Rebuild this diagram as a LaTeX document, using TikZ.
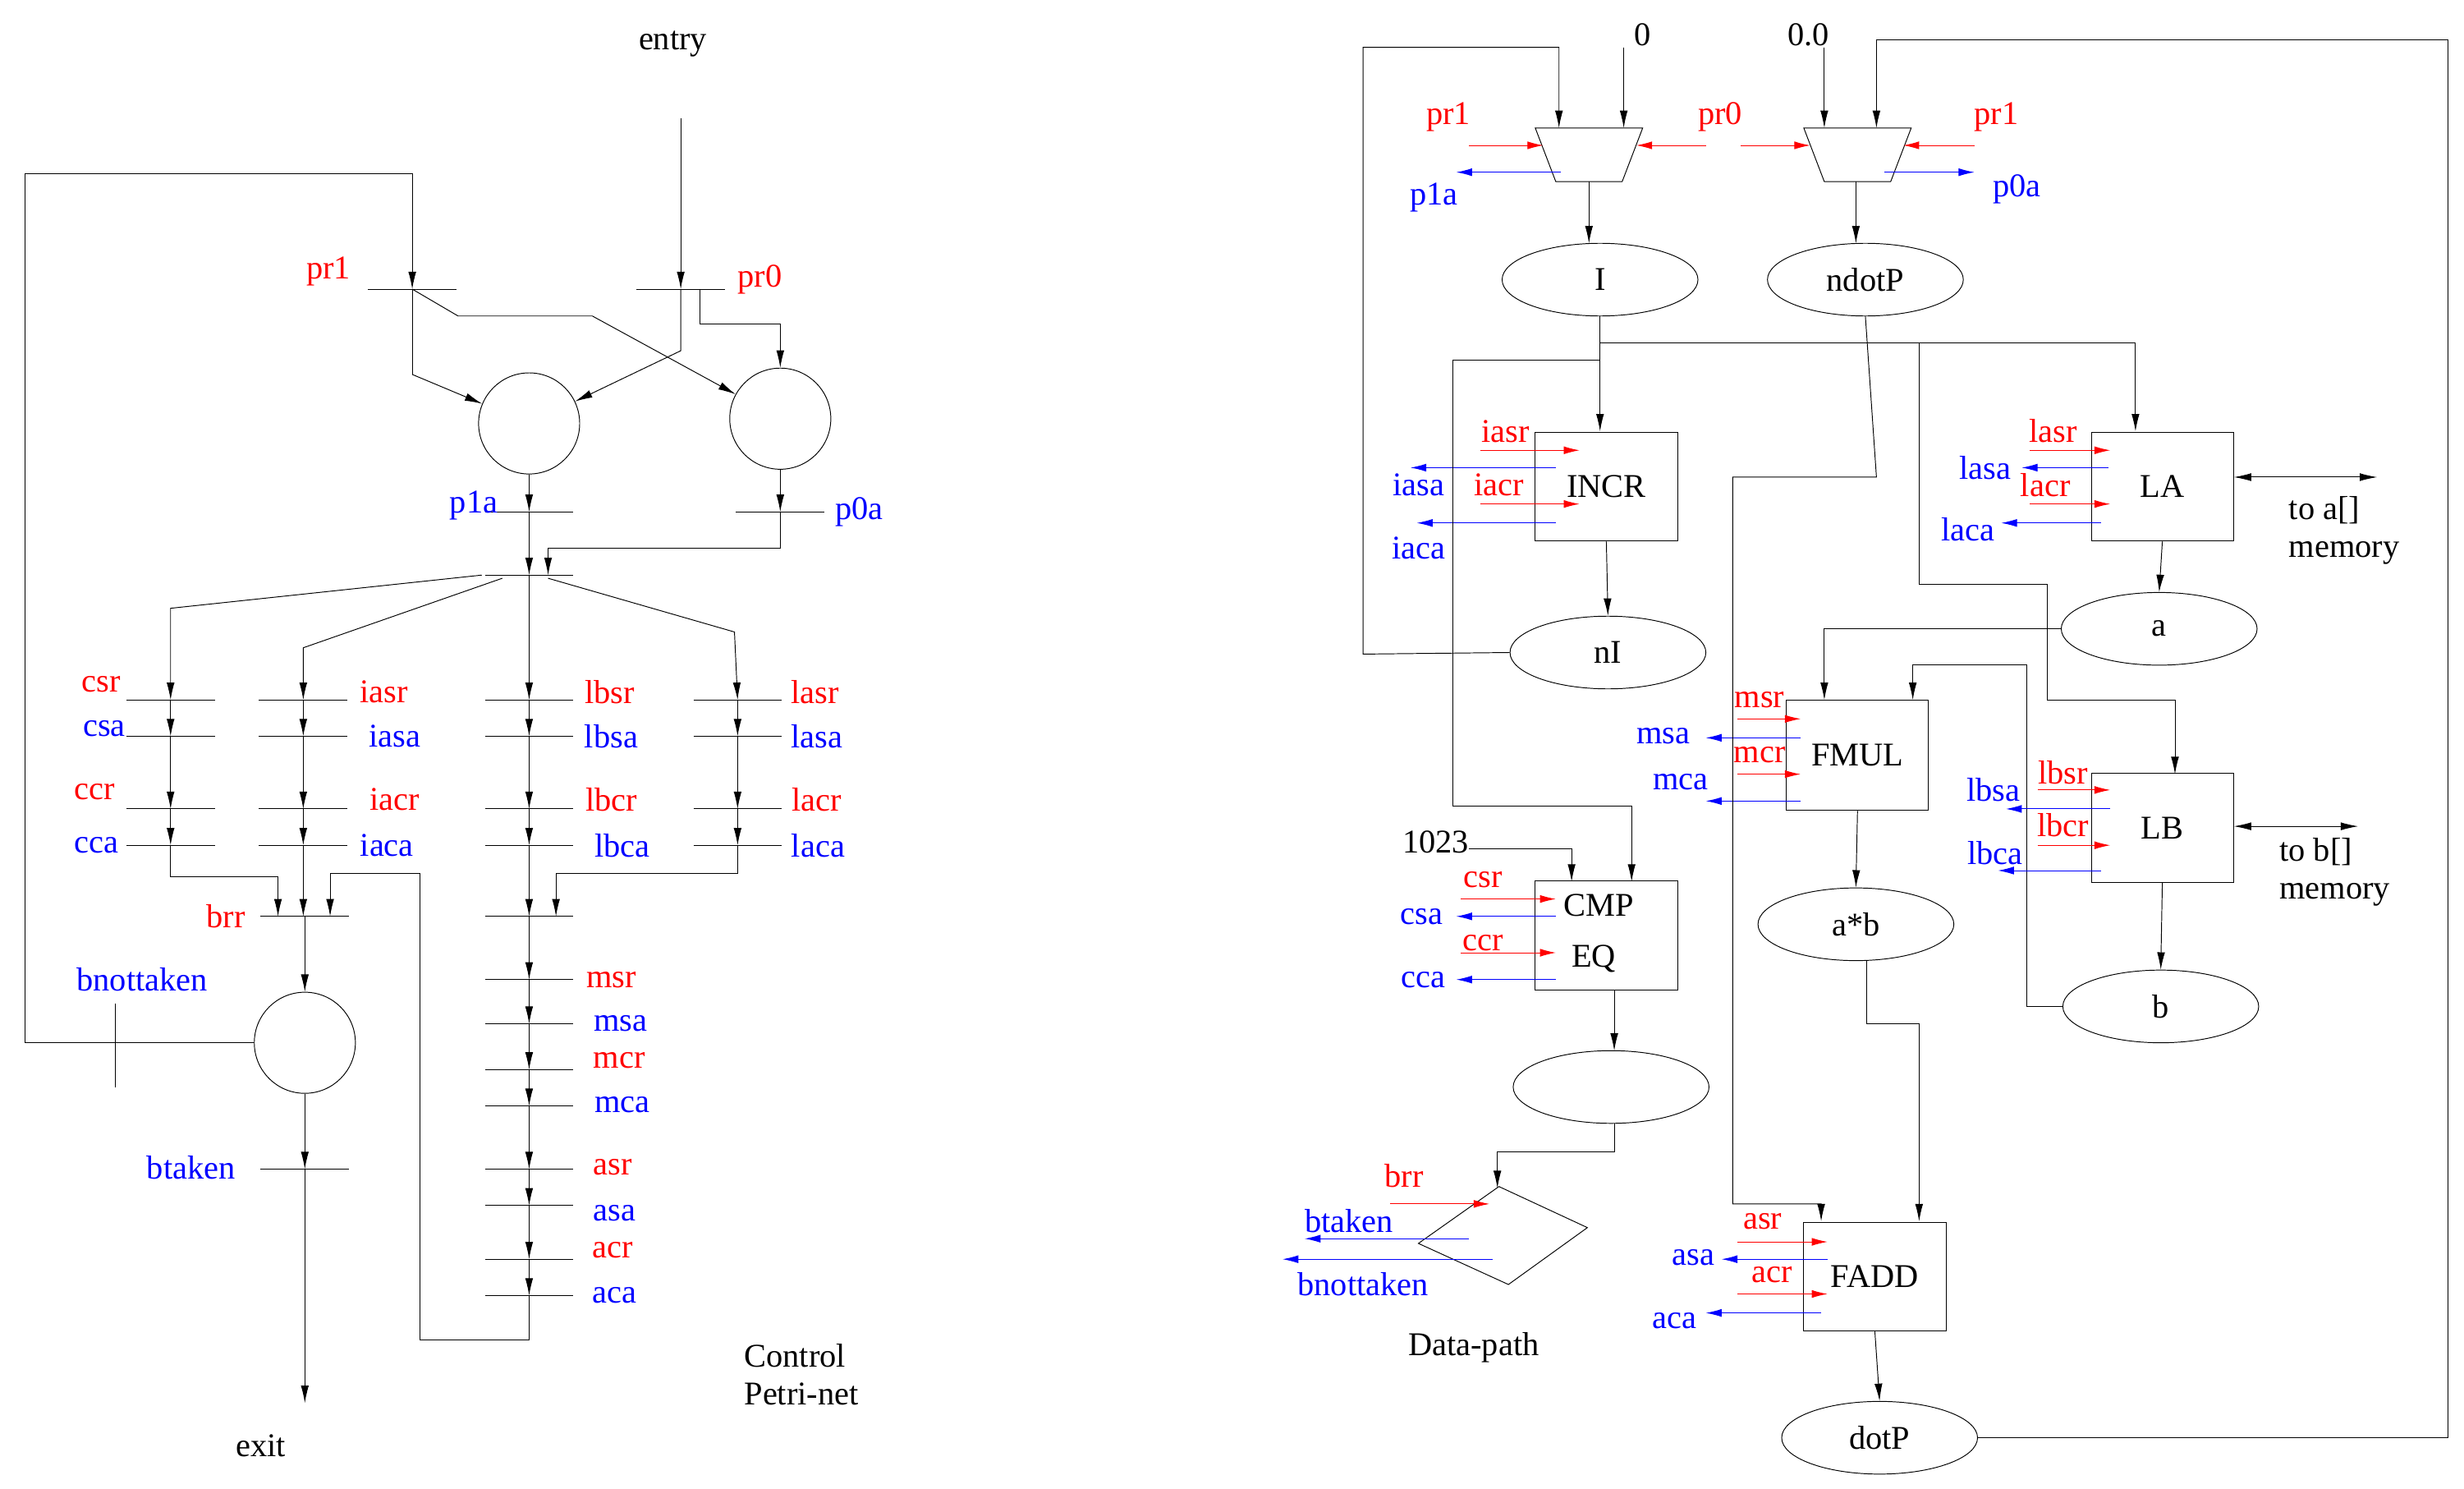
\documentclass[tikz,border=0pt]{standalone}
\usepackage{fontspec}
\setmainfont{Liberation Serif}
\usetikzlibrary{arrows.meta,shapes.geometric}
\begin{document}
\begin{tikzpicture}[x=1pt,y=-1pt,line width=0.5pt,
 ar/.style={-{Latex[length=11pt,width=5pt]}},
 rar/.style={red,-{Latex[length=10pt,width=5pt]}},
 bar/.style={blue,-{Latex[length=10pt,width=5pt]}},
 dar/.style={{Latex[length=11pt,width=5pt]}-{Latex[length=11pt,width=5pt]}},
 txt/.style={font=\fontsize{21}{24}\selectfont,inner sep=0pt},
 rt/.style={txt,text=red}, bt/.style={txt,text=blue},
 pl/.style={circle,draw,minimum size=64pt,inner sep=0pt},
 el/.style={ellipse,draw,minimum width=124pt,minimum height=46pt,inner sep=0pt,txt},
 bx/.style={rectangle,draw,minimum width=90pt,minimum height=69pt,inner sep=0pt,txt}]
\useasboundingbox (0,0) rectangle (1560,942);
\newcommand{\trn}[3]{\coordinate (#3) at (#1,#2); \draw (#1-28,#2) -- (#1+28,#2);}
% ================= Control Petri net =================
\node[txt] (entry) at (426,28) {entry};
\node[txt] (exit) at (165,915) {exit};
\node[txt,align=left,anchor=west] (cpn) at (471,870) {Control\\Petri-net};
\trn{261}{183}{tpr1} \trn{431}{183}{tpr0}
\node[rt] at (208,172) {pr1}; \node[rt] at (481,177) {pr0};
\node[pl] (p1) at (335,268) {}; \node[pl] (p0) at (494,265) {};
\coordinate (ein) at (431,75);
\coordinate (exo) at (193,888);
\draw[ar] (ein) -- (tpr0);
\draw[ar] (261,237) -- (p1);
\draw (tpr1) -- (261,237);
\draw[ar] (tpr1) -- (290,200) -- (375,200) -- (p0);
\draw[ar] (tpr0) -- (431,222) -- (p1);
\draw[ar] (443,183) -- (443,205) -- (494,205) -- (p0.north);
% p1a / p0a
\trn{335}{324}{tp1a} \trn{494}{324}{tp0a}
\node[bt] at (300,320) {p1a}; \node[bt] at (544,324) {p0a};
\draw[ar] (p1.south) -- (tp1a);
\draw[ar] (p0.south) -- (tp0a);
\trn{335}{364}{tj}
\draw[ar] (tp1a) -- (tj);
\draw[ar] (tp0a) -- (494,347) -- (347,347) -- (347,364);
% fork
\draw[ar] (305,364) -- (108,385) -- (108,443);
\draw[ar] (318,366) -- (192,410) -- (192,443);
\draw[ar] (tj) -- (335,443);
\draw[ar] (347,366) -- (465,400) -- (467,443);
% columns
\foreach \c/\a/\b/\cc/\d in {108/csr/csa/ccr/cca,192/iasr/iasa/iacr/iaca,335/lbsr/lbsa/lbcr/lbca,467/lasr/lasa/lacr/laca}{
  \trn{\c}{443}{t\a} \trn{\c}{466}{t\b} \trn{\c}{512}{t\cc} \trn{\c}{535}{t\d}
  \draw[ar] (t\a) -- (t\b); \draw[ar] (t\b) -- (t\cc); \draw[ar] (t\cc) -- (t\d);
}
\node[rt] at (64,433) {csr}; \node[bt] at (66,461) {csa};
\node[rt] at (60,501) {ccr}; \node[bt] at (61,535) {cca};
\node[rt] at (243,438) {iasr}; \node[bt] at (250,466) {iasa};
\node[rt] at (250,506) {iacr}; \node[bt] at (245,535) {iaca};
\node[rt] at (386,438) {lbsr}; \node[bt] at (387,466) {lbsa};
\node[rt] at (387,506) {lbcr}; \node[bt] at (394,535) {lbca};
\node[rt] at (516,438) {lasr}; \node[bt] at (517,466) {lasa};
\node[rt] at (517,506) {lacr}; \node[bt] at (518,535) {laca};
% brr
\trn{193}{580}{tbrr} \node[rt] at (143,580) {brr};
\draw[ar] (tcca) -- (108,555) -- (176,555) -- (176,580);
\draw[ar] (tiaca) -- (192,580);
% lower chain
\trn{335}{580}{tlj}
\draw[ar] (tlbca) -- (tlj);
\draw[ar] (tlaca) -- (467,553) -- (352,553) -- (352,580);
\foreach \y/\n in {620/msr,648/msa,677/mcr,700/mca,740/asr,763/asa,797/acr,820/aca}{\trn{335}{\y}{t\n}}
\draw[ar] (tlj) -- (tmsr); \draw[ar] (tmsr) -- (tmsa); \draw[ar] (tmsa) -- (tmcr);
\draw[ar] (tmcr) -- (tmca); \draw[ar] (tmca) -- (tasr); \draw[ar] (tasr) -- (tasa);
\draw[ar] (tasa) -- (tacr); \draw[ar] (tacr) -- (taca);
\node[rt] at (387,620) {msr}; \node[bt] at (393,648) {msa};
\node[rt] at (392,671) {mcr}; \node[bt] at (394,699) {mca};
\node[rt] at (388,739) {asr}; \node[bt] at (389,768) {asa};
\node[rt] at (388,791) {acr}; \node[bt] at (389,820) {aca};
\draw[ar] (taca) -- (335,848) -- (266,848) -- (266,553) -- (209,553) -- (209,580);
% branch place
\node[pl] (pb) at (193,660) {};
\draw[ar] (tbrr) -- (pb);
\trn{193}{740}{tbt} \node[bt] at (121,739) {btaken};
\draw[ar] (pb) -- (tbt);
\draw[ar] (tbt) -- (exo);
\draw (73,635) -- (73,688);
\node[bt] at (90,620) {bnottaken};
\draw[ar] (pb.west) -- (16,660) -- (16,110) -- (261,110) -- (tpr1);
% ================= Data path =================
\coordinate (m1) at (1006,98); \coordinate (m2) at (1176,98);
\draw (972,81) -- (1040,81) -- (1027,115) -- (985,115) -- cycle;
\draw (1142,81) -- (1210,81) -- (1197,115) -- (1155,115) -- cycle;
\node[txt] (z0) at (1040,22) {0}; \node[txt] (z00) at (1145,22) {0.0};
\draw[ar] (1028,30) -- (1028,81);
\draw[ar] (1155,30) -- (1155,81);
\node[el] (I) at (1013,177) {I};
\node[el] (nd) at (1181,177) {ndotP};
\draw[ar] (1006,115) -- (1006,154);
\draw[ar] (1175,115) -- (1175,154);
\node[rt] at (917,74) {pr1}; \draw[rar] (930,92) -- (977,92);
\node[rt] at (1089,74) {pr0}; \draw[rar] (1080,92) -- (1036,92); \draw[rar] (1102,92) -- (1146,92);
\node[rt] at (1264,74) {pr1}; \draw[rar] (1250,92) -- (1205,92);
\draw[bar] (988,109) -- (922,109); \node[bt] at (908,125) {p1a};
\draw[bar] (1193,109) -- (1250,109); \node[bt] at (1277,120) {p0a};
% INCR
\node[bx] (incr) at (1017,308) {INCR};
\node[el] (nI) at (1018,413) {nI};
\draw[ar] (I.south) -- (1013,273);
\draw (1013,217) -- (1352,217);
\draw[ar] (1352,217) -- (1352,273);
\draw[ar] (incr.south) -- (nI.north);
\draw[ar] (nI.west) -- (863,414) -- (863,30) -- (987,30) -- (987,81);
\node[rt] at (953,273) {iasr}; \draw[rar] (937,285) -- (1000,285);
\draw[bar] (985,296) -- (893,296); \node[bt] at (898,307) {iasa};
\node[rt] at (949,307) {iacr}; \draw[rar] (937,319) -- (1000,319);
\draw[bar] (985,331) -- (897,331); \node[bt] at (898,347) {iaca};
% LA
\node[bx] (la) at (1369,308) {LA};
\node[el] (a) at (1367,398) {a};
\draw[ar] (la.south) -- (a.north);
\node[rt] at (1300,273) {lasr}; \draw[rar] (1285,285) -- (1336,285);
\draw[bar] (1335,296) -- (1280,296); \node[bt] at (1257,296) {lasa};
\node[rt] at (1295,307) {lacr}; \draw[rar] (1285,319) -- (1336,319);
\draw[bar] (1330,331) -- (1267,331); \node[bt] at (1246,335) {laca};
\coordinate (ma) at (1505,302);
\draw[dar] (la.east |- ma) -- (ma);
\node[txt,align=left,anchor=north west] at (1449,314) {to a[]\\memory};
% FMUL
\node[bx,minimum height=70pt] (fm) at (1176,478) {FMUL};
\draw[ar] (a.west) -- (1155,398) -- (1155,443);
\node[rt] at (1114,443) {msr}; \draw[rar] (1100,455) -- (1140,455);
\draw[bar] (1140,467) -- (1080,467); \node[bt] at (1053,466) {msa};
\node[rt] at (1114,478) {mcr}; \draw[rar] (1100,490) -- (1140,490);
\draw[bar] (1140,507) -- (1080,507); \node[bt] at (1064,495) {mca};
\node[el] (ab) at (1175,585) {a*b};
\draw[ar] (fm.south) -- (ab.north);
% LB
\node[bx] (lb) at (1369,524) {LB};
\node[el] (b) at (1368,637) {b};
\draw[ar] (lb.south) -- (b.north);
\draw[ar] (1215,217) -- (1215,370) -- (1296,370) -- (1296,443) -- (1377,443) -- (1377,490);
\draw[ar] (b.west) -- (1283,637) -- (1283,421) -- (1211,421) -- (1211,443);
\node[rt] at (1306,489) {lbsr}; \draw[rar] (1290,500) -- (1336,500);
\draw[bar] (1336,512) -- (1270,512); \node[bt] at (1262,500) {lbsa};
\node[rt] at (1306,522) {lbcr}; \draw[rar] (1290,535) -- (1336,535);
\draw[bar] (1330,551) -- (1265,551); \node[bt] at (1263,540) {lbca};
\coordinate (mb) at (1493,523);
\draw[dar] (lb.east |- mb) -- (mb);
\node[txt,align=left,anchor=north west] at (1443,530) {to b[]\\memory};
% CMP
\node[bx,minimum height=69pt] (cmp) at (1017,592) {};
\node[txt] at (1012,573) {CMP}; \node[txt] at (1009,607) {EQ};
\node[txt] (k) at (909,533) {1023};
\draw[ar] (930,537) -- (995,537) -- (995,558);
\draw[ar] (1013,228) -- (920,228) -- (920,510) -- (1033,510) -- (1033,558);
\node[rt] at (939,557) {csr}; \draw[rar] (925,569) -- (985,569);
\draw[bar] (985,580) -- (922,580); \node[bt] at (900,580) {csa};
\node[rt] at (939,597) {ccr}; \draw[rar] (925,603) -- (985,603);
\draw[bar] (985,620) -- (922,620); \node[bt] at (901,620) {cca};
\node[el] (ce) at (1020,688) {};
\draw[ar] (1022,627) -- (1022,665);
\draw[ar] (1022,711) -- (1022,729) -- (948,729) -- (948,752);
\draw (949,751) -- (1005,777) -- (955,813) -- (898,787) -- cycle;
\node[rt] at (889,744) {brr}; \draw[rar] (880,762) -- (943,762);
\draw[bar] (930,784) -- (826,784); \node[bt] at (854,773) {btaken};
\draw[bar] (945,797) -- (812,797); \node[bt] at (863,813) {bnottaken};
\node[txt] at (933,853) {Data-path};
% FADD
\node[bx,minimum height=69pt] (fa) at (1187,808) {FADD};
\draw[ar] (nd.south) -- (1188,302) -- (1097,302) -- (1097,762) -- (1153,762) -- (1153,773);
\draw[ar] (1182,608) -- (1182,648) -- (1215,648) -- (1215,773);
\node[rt] at (1116,773) {asr}; \draw[rar] (1100,786) -- (1157,786);
\draw[bar] (1157,797) -- (1090,797); \node[bt] at (1072,796) {asa};
\node[rt] at (1122,807) {acr}; \draw[rar] (1100,819) -- (1157,819);
\draw[bar] (1153,831) -- (1080,831); \node[bt] at (1060,836) {aca};
\node[el] (dp) at (1190,910) {dotP};
\draw[ar] (fa.south) -- (dp.north);
\draw[ar] (dp.east) -- (1550,910) -- (1550,25) -- (1188,25) -- (1188,81);
\end{tikzpicture}
\end{document}
